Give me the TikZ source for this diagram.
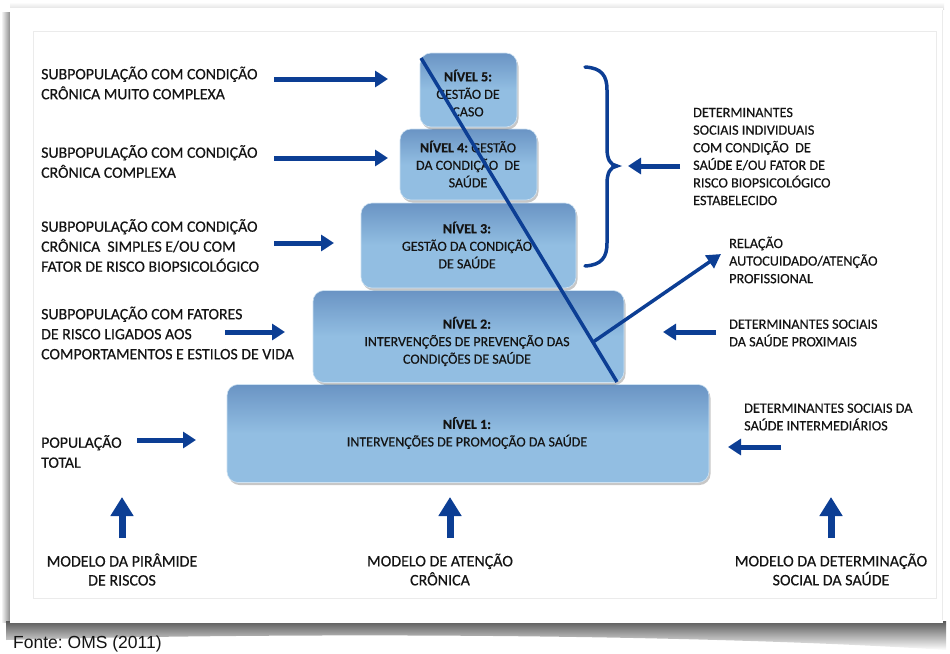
\documentclass[tikz,border=0pt]{standalone}
\usepackage{fontspec}
\setmainfont{Carlito}[FakeBold=0.45]
\newfontfamily\arialf{Liberation Sans}
\usetikzlibrary{arrows.meta,shadows,calc}
\definecolor{dblue}{RGB}{12,62,148}
\definecolor{boxtop}{RGB}{106,148,196}
\definecolor{boxbot}{RGB}{146,190,226}
\definecolor{txt}{RGB}{20,20,20}
\frenchspacing
\tikzset{
  lvl/.style={rounded corners=11pt, top color=boxtop, bottom color=boxbot, middle color=boxbot,
    draw=white!55!boxbot, line width=0.6pt, inner sep=0pt,
    drop shadow={shadow xshift=1.5pt, shadow yshift=-2.5pt, opacity=0.22, fill=black}},
  btext/.style={align=center, inner sep=0pt, text=txt, font=\fontsize{14}{17.5}\selectfont},
  ltext/.style={anchor=west, align=left, inner sep=0pt, text=txt, font=\fontsize{15.8}{20}\selectfont},
  rtext/.style={anchor=west, align=left, inner sep=0pt, text=txt, font=\fontsize{14.2}{17.6}\selectfont},
  mtext/.style={align=center, inner sep=0pt, text=txt, font=\fontsize{16}{19}\selectfont},
  harrow/.style={dblue, line width=5pt, -{Triangle[length=13pt,width=16pt]}},
  varrow/.style={dblue, line width=7pt, -{Triangle[length=19pt,width=22pt]}},
  thinline/.style={dblue, line width=3.5pt},
}
\begin{document}
\begin{tikzpicture}[x=1pt,y=-1pt]
\useasboundingbox (0,0) rectangle (950,653);
% photo frame
\shade[left color=white, right color=black!45] (1,12) rectangle (10,622);
\shade[top color=white, bottom color=black!12] (10,2) rectangle (944,9);
\shade[top color=black!65, bottom color=white] (6,621) -- (946,621) -- (946,650) .. controls (700,634) and (300,632) .. (6,640) -- cycle;
\fill[white] (10,8) rectangle (943,623);
\draw[black!8, line width=0.8pt] (33,31) rectangle (936,598);
\draw[black!8, line width=0.8pt] (942,10) -- (942,620);

% pyramid levels
\node[lvl, minimum width=482pt, minimum height=98pt] (L1) at (468,433.5) {};
\node[lvl, minimum width=311pt, minimum height=92pt] (L2) at (468.5,336.5) {};
\node[lvl, minimum width=215pt, minimum height=85pt] (L3) at (468.5,245.5) {};
\node[lvl, minimum width=137pt, minimum height=71pt] (L4) at (468.5,164.5) {};
\node[lvl, minimum width=97pt, minimum height=74pt] (L5) at (468.5,90) {};

\node[btext] (t5) at (468,93) {\textbf{NÍVEL 5:}\\GESTÃO DE\\CASO};
\node[btext] (t4) at (468,164) {\textbf{NÍVEL 4:} GESTÃO\\DA CONDIÇÃO~ DE\\SAÚDE};
\node[btext] (t3) at (467,245) {\textbf{NÍVEL 3:}\\GESTÃO DA CONDIÇÃO\\DE SAÚDE};
\node[btext] (t2) at (467,341.5) {\textbf{NÍVEL 2:}\\INTERVENÇÕES DE PREVENÇÃO DAS\\CONDIÇÕES DE SAÚDE};
\node[btext] (t1) at (467,433) {\textbf{NÍVEL 1:}\\INTERVENÇÕES DE PROMOÇÃO DA SAÚDE};

% diagonal line and branch
\coordinate (dtop) at (421,58);
\coordinate (dbot) at (617,382);
\draw[thinline] (dtop) -- (dbot);
\coordinate (branch) at ($(dtop)!0.877!(dbot)$);
\coordinate (reltip) at (721,254);
\draw[thinline, -{Triangle[length=14pt,width=15pt]}] (branch) -- (reltip);

% brace
\coordinate (bracetip) at (617,166);
\draw[thinline, line cap=round] (585,67) .. controls (602,68) and (607,76) .. (607,90) -- (607,148)
  .. controls (607,159) and (610,165) .. (bracetip)
  .. controls (610,167) and (607,173) .. (607,184) -- (607,243)
  .. controls (607,257) and (602,265) .. (585,266);

% left texts
\node[ltext] (s5) at (41,83) {SUBPOPULAÇÃO COM CONDIÇÃO\\CRÔNICA MUITO COMPLEXA};
\node[ltext] (s4) at (41,161.5) {SUBPOPULAÇÃO COM CONDIÇÃO\\CRÔNICA COMPLEXA};
\node[ltext] (s3) at (41,245.5) {SUBPOPULAÇÃO COM CONDIÇÃO\\CRÔNICA~ SIMPLES E/OU COM\\FATOR DE RISCO BIOPSICOLÓGICO};
\node[ltext] (s2) at (41,333) {SUBPOPULAÇÃO COM FATORES\\DE RISCO LIGADOS AOS\\COMPORTAMENTOS E ESTILOS DE VIDA};
\node[ltext] (s1) at (41,451.5) {POPULAÇÃO\\TOTAL};

\coordinate (a5s) at (274,79);   \coordinate (a5e) at (388,79);
\coordinate (a4s) at (274,158);  \coordinate (a4e) at (388,158);
\coordinate (a3s) at (274,243);  \coordinate (a3e) at (334,243);
\coordinate (a2s) at (225,332);  \coordinate (a2e) at (285,332);
\coordinate (a1s) at (137,440);  \coordinate (a1e) at (196,440);
\draw[harrow] (a5s) -- (a5e);
\draw[harrow] (a4s) -- (a4e);
\draw[harrow] (a3s) -- (a3e);
\draw[harrow] (a2s) -- (a2e);
\draw[harrow] (a1s) -- (a1e);

% right texts
\node[rtext] (dind) at (693,156.5) {DETERMINANTES\\SOCIAIS INDIVIDUAIS\\COM CONDIÇÃO~ DE\\SAÚDE E/OU FATOR DE\\RISCO BIOPSICOLÓGICO\\ESTABELECIDO};
\node[rtext] (rel) at (729,260) {RELAÇÃO\\AUTOCUIDADO/ATENÇÃO\\PROFISSIONAL};
\node[rtext] (prox) at (729,333) {DETERMINANTES SOCIAIS\\DA SAÚDE PROXIMAIS};
\node[rtext] (inter) at (744,417) {DETERMINANTES SOCIAIS DA\\SAÚDE INTERMEDIÁRIOS};

\coordinate (bs) at (680,166);  \coordinate (be) at (628,166);
\coordinate (ps) at (716,332);  \coordinate (pe) at (663,332);
\coordinate (is) at (781,447);  \coordinate (ie) at (728,447);
\draw[harrow] (bs) -- (be);
\draw[harrow] (ps) -- (pe);
\draw[harrow] (is) -- (ie);

% bottom models
\node[mtext] (m1) at (122,569.5) {MODELO DA PIRÂMIDE\\DE RISCOS};
\node[mtext] (m2) at (440,569.5) {MODELO DE ATENÇÃO\\CRÔNICA};
\node[mtext] (m3) at (831,569.5) {MODELO DA DETERMINAÇÃO\\SOCIAL DA SAÚDE};
\coordinate (u1s) at (122,538); \coordinate (u1e) at (122,497);
\coordinate (u2s) at (450,538); \coordinate (u2e) at (450,497);
\coordinate (u3s) at (831,538); \coordinate (u3e) at (831,497);
\draw[varrow] (u1s) -- (u1e);
\draw[varrow] (u2s) -- (u2e);
\draw[varrow] (u3s) -- (u3e);

% source
\node[anchor=base west, inner sep=0pt, font=\arialf\fontsize{17.5}{20}\selectfont, text=txt] (fonte) at (13,648) {Fonte: OMS (2011)};
\end{tikzpicture}
\end{document}
